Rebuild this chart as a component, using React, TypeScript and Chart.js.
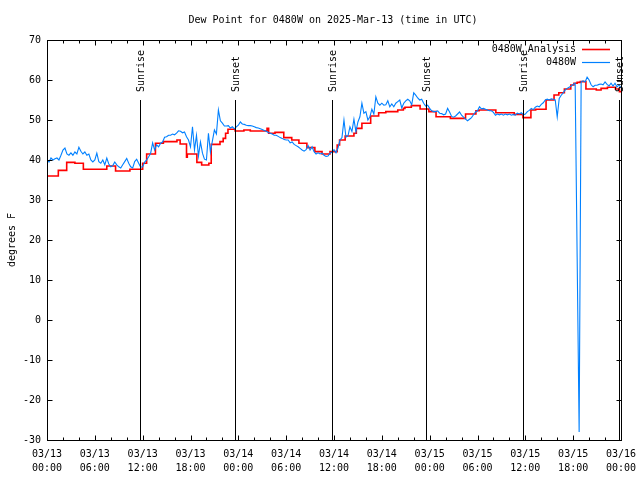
import { useEffect, useRef } from 'react';
import { Chart, registerables } from 'chart.js';

Chart.register(...registerables);

const TITLE = 'Dew Point for 0480W on 2025-Mar-13 (time in UTC)';
const Y_LABEL = 'degrees F';
const FONT = "'DejaVu Sans Mono', 'Liberation Mono', monospace";

const X_MIN = 0;
const X_MAX = 72;
const Y_MIN = -30;
const Y_MAX = 70;
const Y_STEP = 10;
const X_MINOR_STEP = 2;

const xTickHours = [0, 6, 12, 18, 24, 30, 36, 42, 48, 54, 60, 66, 72];
const xTickDates = ['03/13', '03/13', '03/13', '03/13', '03/14', '03/14', '03/14', '03/14', '03/15', '03/15', '03/15', '03/15', '03/16'];
const xTickTimes = ['00:00', '06:00', '12:00', '18:00', '00:00', '06:00', '12:00', '18:00', '00:00', '06:00', '12:00', '18:00', '00:00'];

const sunEventLabels = ['Sunrise', 'Sunset', 'Sunrise', 'Sunset', 'Sunrise', 'Sunset'];
const sunEventHours = [11.67, 23.52, 35.78, 47.58, 59.72, 71.72];
const SUN_LINE_TOP = 55;

const legendLabels = ['0480W_Analysis', '0480W'];

// 0480W observations, one value every 0.25 h starting at 03/13 00:00
const blueStartHour = 0;
const blueStepHours = 0.25;
const blueValues = [
  40.0,
  39.5, 40.5, 40.0, 40.3, 40.5, 40.0, 41.2, 42.5,
  43.0, 41.5, 41.2, 41.8, 41.2, 42.0, 41.5, 43.2,
  42.2, 41.5, 42.0, 41.2, 41.5, 40.0, 39.5, 40.0,
  41.7, 39.6, 39.2, 40.0, 38.8, 40.5, 39.0, 38.3,
  38.6, 39.5, 38.8, 38.3, 38.0, 38.8, 39.6, 40.4,
  39.2, 38.3, 38.0, 39.6, 40.2, 39.2, 38.2, 38.3,
  // 12.25 - 24
  39.5, 40.0, 40.8, 41.7, 44.3, 42.5, 43.8, 43.3,
  44.2, 44.5, 45.7, 45.8, 46.2, 46.2, 46.5, 46.3,
  46.7, 47.3, 47.2, 46.8, 47.0, 45.8, 45.0, 43.3,
  48.3, 42.5, 46.2, 41.0, 44.5, 41.7, 40.2, 40.0,
  46.7, 42.0, 44.8, 47.5, 46.5, 52.5, 49.8, 49.2,
  48.5, 48.5, 48.6, 48.0, 48.3, 47.8, 48.3, 48.7,
  // 24.25 - 36
  49.5, 49.0, 48.9, 48.7, 48.6, 48.6, 48.5, 48.3,
  48.1, 48.0, 47.8, 47.6, 47.4, 47.2, 46.9, 46.7,
  46.5, 46.2, 46.2, 45.9, 45.6, 45.4, 45.1, 45.0,
  45.0, 44.3, 44.5, 43.9, 43.6, 43.3, 42.9, 42.5,
  42.2, 42.6, 43.6, 42.5, 43.3, 42.1, 41.5, 41.8,
  41.5, 41.7, 41.2, 40.9, 41.0, 41.7, 42.0, 42.6,
  // 36.25 - 48
  41.8, 43.0, 45.0, 45.6, 50.0, 45.7, 46.0, 48.3,
  47.1, 50.2, 47.1, 49.5, 50.8, 54.2, 51.7, 52.1,
  50.0, 50.8, 52.7, 51.5, 55.8, 54.2, 53.7, 54.2,
  53.7, 53.8, 54.8, 53.3, 54.0, 53.3, 54.2, 54.6,
  55.0, 53.0, 54.2, 54.8, 55.2, 54.8, 53.8, 56.8,
  56.2, 55.5, 55.0, 55.2, 54.2, 53.5, 53.7, 52.9,
  // 48.25 - 60
  52.3, 52.1, 52.1, 52.3, 51.7, 51.6, 51.3, 51.5,
  52.9, 52.0, 50.9, 50.7, 51.0, 51.5, 52.0, 51.2,
  50.7, 50.2, 49.8, 50.2, 50.6, 51.3, 52.0, 52.3,
  53.3, 52.8, 52.9, 52.7, 52.5, 52.3, 52.3, 51.9,
  51.2, 51.5, 51.3, 51.5, 51.2, 51.5, 51.3, 51.5,
  51.2, 51.4, 51.2, 51.7, 51.5, 51.8, 51.3, 51.5,
  // 60.25 - 72
  52.1, 52.4, 52.9, 52.6, 53.2, 53.5, 53.3, 53.9,
  54.3, 55.0, 55.2, 55.0, 55.3, 55.2, 55.0, 50.8,
  55.4, 56.2, 56.8, 57.5, 57.9, 58.2, 58.5, 58.9,
  59.2, 15.7, -28.0, 59.6, 59.8, 59.5, 60.7, 60.0,
  58.8, 58.3, 58.7, 58.7, 58.9, 59.0, 58.8, 59.5,
  58.9, 58.5, 59.2, 58.5, 59.2, 58.3, 58.8, 58.0,
];

// 0480W_Analysis: step changes (hour, value)
const redHours = [
  0, 1.42, 2.47, 3.5, 4.56, 7.5, 8.6, 10.4, 12.0, 12.5,
  13.6, 14.6, 16.3, 16.7, 17.5, 17.6, 18.8, 19.4, 20.3, 20.6,
  21.7, 22.1, 22.4, 22.7, 23.6, 24.7, 25.5, 27.6, 27.8, 28.6,
  29.7, 30.7, 31.6, 32.6, 33.6, 34.5, 35.5, 36.4, 36.7, 37.4,
  38.5, 38.8, 39.5, 40.6, 41.6, 42.5, 44.0, 44.7, 44.9, 45.7,
  46.8, 47.9, 48.8, 50.6, 52.5, 53.8, 54.2, 56.3, 58.6, 59.7,
  60.7, 61.3, 62.6, 63.6, 64.2, 64.9, 65.7, 66.1, 66.5, 66.9,
  67.6, 68.9, 69.5, 70.3, 71.3, 71.8, 72,
];
const redValues = [
  36.0, 37.4, 39.4, 39.2, 37.7, 38.5, 37.25, 37.7, 39.2, 41.5,
  44.2, 44.6, 45.0, 44.0, 40.7, 41.5, 39.4, 38.75, 39.2, 43.9,
  44.6, 45.4, 46.7, 47.7, 47.25, 47.5, 47.25, 47.9, 46.7, 46.9,
  45.6, 45.0, 44.2, 43.1, 42.1, 41.5, 42.1, 43.75, 45.0, 46.0,
  46.7, 47.9, 49.2, 51.0, 51.8, 52.1, 52.5, 52.9, 53.2, 53.6,
  52.75, 52.1, 50.8, 50.4, 51.5, 52.3, 52.5, 51.8, 51.4, 50.6,
  52.5, 52.7, 55.0, 56.25, 56.8, 57.75, 58.75, 59.2, 59.4, 59.6,
  57.75, 57.5, 57.9, 58.2, 57.75, 57.1, 57.1,
];

const RED = '#ff0000';
const BLUE = '#0080ff';

const overlayPlugin = {
  id: 'gnuplotOverlay',
  afterDatasetsDraw(chart: any) {
    const { ctx, chartArea: a, scales } = chart;
    const x = scales.x;
    const y = scales.y;
    ctx.save();
    ctx.font = `10px ${FONT}`;
    ctx.fillStyle = '#000';
    ctx.strokeStyle = '#000';
    ctx.lineWidth = 1;
    const topY = Math.round(y.getPixelForValue(SUN_LINE_TOP));
    sunEventHours.forEach((h, i) => {
      const px = Math.round(x.getPixelForValue(h)) + 0.5;
      ctx.beginPath();
      ctx.moveTo(px, topY);
      ctx.lineTo(px, a.bottom);
      ctx.stroke();
      ctx.save();
      ctx.translate(px + 1, topY - 8);
      ctx.rotate(-Math.PI / 2);
      ctx.textAlign = 'left';
      ctx.textBaseline = 'middle';
      ctx.fillText(sunEventLabels[i], 0, 0);
      ctx.restore();
    });

    // border
    const L = Math.round(a.left) + 0.5;
    const R = Math.round(a.right) + 0.5;
    const T = Math.round(a.top) + 0.5;
    const B = Math.round(a.bottom) + 0.5;
    ctx.strokeRect(L, T, R - L, B - T);

    // inward ticks
    ctx.beginPath();
    for (let v = X_MIN; v <= X_MAX; v += X_MINOR_STEP) {
      const px = Math.round(x.getPixelForValue(v)) + 0.5;
      const len = xTickHours.includes(v) ? 5 : 3;
      ctx.moveTo(px, B);
      ctx.lineTo(px, B - len);
      ctx.moveTo(px, T);
      ctx.lineTo(px, T + len);
    }
    for (let v = Y_MIN; v <= Y_MAX; v += Y_STEP) {
      const py = Math.round(y.getPixelForValue(v)) + 0.5;
      ctx.moveTo(L, py);
      ctx.lineTo(L + 5, py);
      ctx.moveTo(R, py);
      ctx.lineTo(R - 5, py);
    }
    ctx.stroke();

    // legend
    const legendColors = [RED, BLUE];
    legendLabels.forEach((label, i) => {
      const ly = 49 + i * 13;
      ctx.fillStyle = '#000';
      ctx.textAlign = 'right';
      ctx.textBaseline = 'middle';
      ctx.fillText(label, a.right - 45, ly);
      ctx.strokeStyle = legendColors[i];
      ctx.lineWidth = i === 0 ? 1.6 : 1.2;
      ctx.beginPath();
      ctx.moveTo(a.right - 39, ly + 0.5);
      ctx.lineTo(a.right - 11, ly + 0.5);
      ctx.stroke();
    });

    // title
    ctx.fillStyle = '#000';
    ctx.textAlign = 'center';
    ctx.textBaseline = 'middle';
    ctx.fillText(TITLE, (a.left + a.right) / 2 - 1, 20);

    // y label
    ctx.save();
    ctx.translate(12, (a.top + a.bottom) / 2);
    ctx.rotate(-Math.PI / 2);
    ctx.fillText(Y_LABEL, 0, 0);
    ctx.restore();
    ctx.restore();
  },
};

export default function App() {
  const ref = useRef<HTMLCanvasElement | null>(null);

  useEffect(() => {
    const canvas = ref.current;
    if (!canvas) return;
    const bluePoints = blueValues.map((v, i) => ({ x: blueStartHour + i * blueStepHours, y: v }));
    const redPoints = redHours.map((h, i) => ({ x: h, y: redValues[i] }));

    const chart = new Chart(canvas, {
      type: 'line',
      data: {
        datasets: [
          {
            label: legendLabels[1],
            data: bluePoints,
            borderColor: BLUE,
            borderWidth: 1.1,
            pointRadius: 0,
            tension: 0,
          },
          {
            label: legendLabels[0],
            data: redPoints,
            borderColor: RED,
            borderWidth: 1.6,
            pointRadius: 0,
            stepped: 'before',
            tension: 0,
          },
        ],
      },
      options: {
        animation: false,
        responsive: false,
        devicePixelRatio: 1,
        events: [],
        layout: { padding: { left: 0, top: 40, right: 19, bottom: 0 } },
        plugins: {
          legend: { display: false },
          title: { display: false },
          tooltip: { enabled: false },
        },
        scales: {
          x: {
            type: 'linear',
            min: X_MIN,
            max: X_MAX,
            grid: { display: false, drawTicks: false },
            border: { display: false },
            afterFit: (s: any) => {
              s.height = 40;
              s.paddingLeft = 0;
              s.paddingRight = 0;
            },
            afterBuildTicks: (s: any) => {
              s.ticks = xTickHours.map((h) => ({ value: h }));
            },
            ticks: {
              autoSkip: false,
              maxRotation: 0,
              minRotation: 0,
              padding: 7,
              color: '#000',
              font: { family: FONT, size: 10, lineHeight: 1.4 },
              callback: (value: any) => {
                const i = xTickHours.indexOf(Number(value));
                return i >= 0 ? [xTickDates[i], xTickTimes[i]] : '';
              },
            },
          },
          y: {
            type: 'linear',
            min: Y_MIN,
            max: Y_MAX,
            grid: { display: false, drawTicks: false },
            border: { display: false },
            afterFit: (s: any) => {
              s.width = 47;
              s.paddingTop = 0;
              s.paddingBottom = 0;
            },
            ticks: {
              stepSize: Y_STEP,
              padding: 6,
              color: '#000',
              font: { family: FONT, size: 10 },
            },
          },
        },
      },
      plugins: [overlayPlugin],
    });
    return () => chart.destroy();
  }, []);

  return (
    <div style={{ position: 'fixed', left: 0, top: 0, width: 640, height: 480, background: '#fff' }}>
      <canvas ref={ref} width={640} height={480} style={{ width: 640, height: 480 }} />
    </div>
  );
}
